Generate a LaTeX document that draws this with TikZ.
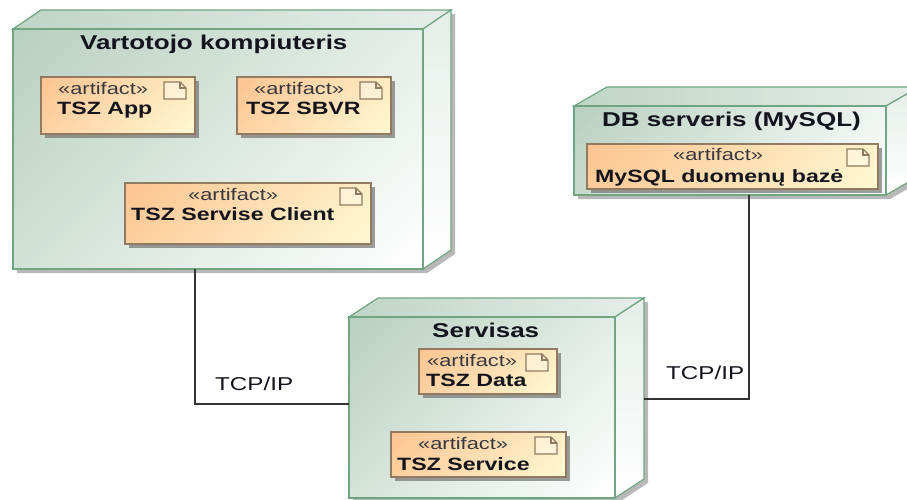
\documentclass[tikz,border=0pt]{standalone}
\usepackage{fontspec}
\setmainfont{Liberation Sans}[FakeStretch=1.3]
\usetikzlibrary{shadows}
\definecolor{nodeline}{HTML}{6FA581}
\definecolor{artline}{HTML}{927A60}
\definecolor{conn}{HTML}{333333}
\definecolor{ink}{HTML}{14141E}
\definecolor{nodeA}{HTML}{B8D0C0}
\definecolor{nodeC}{HTML}{E6EEE9}
\definecolor{artA}{HTML}{FDC491}
\definecolor{artB}{HTML}{FFF8D2}
\pgfdeclareverticalshading{nodeshade}{100bp}{color(0bp)=(white); color(15bp)=(white); color(85bp)=(nodeA); color(100bp)=(nodeA)}
\pgfdeclareverticalshading{artshade}{100bp}{color(0bp)=(artB); color(15bp)=(artB); color(85bp)=(artA); color(100bp)=(artA)}
\tikzset{
  nodefront/.style={draw=nodeline,line width=1.2pt,inner sep=0pt,outer sep=0pt,anchor=north west,
    shade,shading=nodeshade,shading angle=45},
  nodetop/.style={draw=nodeline,line width=1.2pt,left color=nodeA!90!white,right color=nodeC,shading angle=90},
  nodeside/.style={draw=nodeline,line width=1.2pt,top color=nodeC,bottom color=white},
  nodeshadow/.style={fill=black!28,draw=none},
  artifactbox/.style={draw=artline,line width=1.2pt,inner sep=0pt,outer sep=0pt,anchor=north west,
    shade,shading=artshade,shading angle=45,
    drop shadow={shadow xshift=4pt,shadow yshift=-4pt,fill=black!55,opacity=.7}},
  icon/.style={draw=artline,line width=1.1pt,fill=white,fill opacity=.35},
  titletext/.style={anchor=base west,inner sep=0pt,text=ink,font=\fontsize{20}{22}\selectfont\bfseries},
  stereotext/.style={anchor=base west,inner sep=0pt,text=ink!85,font=\fontsize{16.8}{19}\selectfont},
  nametext/.style={anchor=base west,inner sep=0pt,text=ink,font=\fontsize{17.8}{20}\selectfont\bfseries},
  conntext/.style={anchor=base west,inner sep=0pt,text=ink,font=\fontsize{18.6}{21}\selectfont},
  connector/.style={draw=conn,line width=1.2pt},
}
% name, x1,y1,x2,y2,dx,dy
\newcommand{\umlnode}[7]{%
  \path[nodeshadow] ({#2+4},{#3+4}) -- ({#2+#6+4},{#3-#7+4}) -- ({#4+#6+4},{#3-#7+4}) -- ({#4+#6+4},{#5-#7+4}) -- ({#4+4},{#5+4}) -- ({#2+4},{#5+4}) -- cycle;
  \path[nodetop] (#2,#3) -- ({#2+#6},{#3-#7}) -- ({#4+#6},{#3-#7}) -- (#4,#3) -- cycle;
  \path[nodeside] (#4,#3) -- ({#4+#6},{#3-#7}) -- ({#4+#6},{#5-#7}) -- (#4,#5) -- cycle;
  \node[nodefront,minimum width={#4-#2},minimum height={#5-#3}] (#1) at (#2,#3) {};
}
% name, x1,y1,x2,y2
\newcommand{\umlartifact}[5]{%
  \node[artifactbox,minimum width={#4-#2},minimum height={#5-#3}] (#1) at (#2,#3) {};
  \draw[icon] ([shift={(-31,5)}]#1.north east) -- ++(16,0) -- ++(6,6) -- ++(0,11) -- ++(-22,0) -- cycle;
  \draw[artline,line width=1.1pt] ([shift={(-15,5)}]#1.north east) -- ++(0,6) -- ++(6,0);
}
\begin{document}
\begin{tikzpicture}[x=1pt,y=-1pt]
\path[use as bounding box] (0,0) rectangle (907,500);
\clip (0,0) rectangle (907,500);
\fill[white] (0,0) rectangle (907,500);

\umlnode{n1}{13}{29}{423}{269}{28}{19}
\umlnode{n2}{574}{106}{886}{195}{33}{19}
\umlnode{n3}{349}{317}{615}{498}{29}{19}

\umlartifact{a1}{41}{77}{195}{134}
\umlartifact{a2}{237}{77}{391}{134}
\umlartifact{a3}{125}{183}{371}{244}
\umlartifact{a4}{587}{144}{878}{189}
\umlartifact{a5}{419}{349}{557}{394}
\umlartifact{a6}{391}{432}{566}{477}

\node[titletext] (t1) at (80,50) {Vartotojo kompiuteris};
\node[titletext] (t2) at (602,127) {DB serveris (MySQL)};
\node[titletext] (t3) at (432,337) {Servisas};

\node[stereotext] (s1) at (58,95) {«artifact»};
\node[nametext] (m1) at (57,115) {TSZ App};
\node[stereotext] (s2) at (254,95) {«artifact»};
\node[nametext] (m2) at (246,115) {TSZ SBVR};
\node[stereotext] (s3) at (188,200) {«artifact»};
\node[nametext] (m3) at (131,220) {TSZ Servise Client};
\node[stereotext] (s4) at (673,160) {«artifact»};
\node[nametext] (m4) at (595,182) {MySQL duomenų bazė};
\node[stereotext] (s5) at (427,366) {«artifact»};
\node[nametext] (m5) at (426,386) {TSZ Data};
\node[stereotext] (s6) at (418,449) {«artifact»};
\node[nametext] (m6) at (397,470) {TSZ Service};

\coordinate (c1) at (195,404);
\coordinate (c2) at (749,399);
\coordinate (n3r) at (644,399);
\draw[connector] (n1.south -| c1) -- (c1) -- (c1 -| n3.west);
\draw[connector] (n2.south -| c2) -- (c2) -- (n3r);

\node[conntext] (l1) at (215,390) {TCP/IP};
\node[conntext] (l2) at (666,379) {TCP/IP};
\end{tikzpicture}
\end{document}
